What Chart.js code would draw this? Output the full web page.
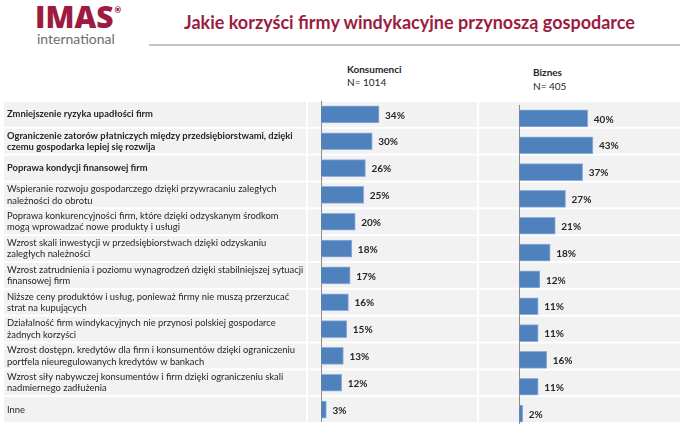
<!DOCTYPE html>
<html lang="pl">
<head>
<meta charset="utf-8">
<title>Jakie korzyści firmy windykacyjne przynoszą gospodarce</title>
<script src="https://cdn.jsdelivr.net/npm/chart.js@4.4.1/dist/chart.umd.min.js"></script>
<style>
  html, body { margin: 0; padding: 0; background: #fff; }
  body { width: 680px; height: 429px; position: relative; overflow: hidden; font-family: Lato, 'Open Sans', sans-serif; color: #262626; }
  .abs { position: absolute; white-space: nowrap; }
  #logo { left: 35px; top: -4px; font: 800 30px 'Open Sans', sans-serif; color: #9e1b3f; }
  #logo sup { font-size: 8px; position: relative; top: -4px; margin-left: 1px; }
  #intl { left: 37px; top: 30px; font: 14px Lato, sans-serif; color: #6e6e6e; }
  #title { left: 184px; top: 11px; font: bold 18px Lato, sans-serif; color: #9b1c40; }
  #rule { left: 149px; top: 44px; width: 531px; height: 2px; background: #c4c4c4; }
  .head { font-size: 10px; line-height: 13px; color: #262626; }
  .head b { font-weight: bold; }
  canvas { position: absolute; }
</style>
</head>
<body>
<div id="logo" class="abs">IMAS<sup>®</sup></div>
<div id="intl" class="abs">international</div>
<div id="title" class="abs">Jakie korzyści firmy windykacyjne przynoszą gospodarce</div>
<div id="rule" class="abs"></div>
<div class="abs head" style="left:347px;top:63px"><b>Konsumenci</b><br>N= 1014</div>
<div class="abs head" style="left:533px;top:65px;line-height:14px"><b>Biznes</b><br>N= 405</div>

<canvas id="consChart" width="478" height="322" style="left:0;top:101px"></canvas>
<canvas id="bizChart" width="202" height="326" style="left:478px;top:101px"></canvas>

<script>
// categories, wrapped the same way as in the original slide
const categories = [
  ['Zmniejszenie ryzyka upadłości firm'],
  ['Ograniczenie zatorów płatniczych między przedsiębiorstwami, dzięki', 'czemu gospodarka lepiej się rozwija'],
  ['Poprawa kondycji finansowej firm'],
  ['Wspieranie rozwoju gospodarczego dzięki przywracaniu zaległych', 'należności do obrotu'],
  ['Poprawa konkurencyjności firm, które dzięki odzyskanym środkom', 'mogą wprowadzać nowe produkty i usługi'],
  ['Wzrost skali inwestycji w przedsiębiorstwach dzięki odzyskaniu', 'zaległych należności'],
  ['Wzrost zatrudnienia i poziomu wynagrodzeń dzięki stabilniejszej sytuacji', 'finansowej firm'],
  ['Niższe ceny produktów i usług, ponieważ firmy nie muszą przerzucać', 'strat na kupujących'],
  ['Działalność firm windykacyjnych nie przynosi polskiej gospodarce', 'żadnych korzyści'],
  ['Wzrost dostępn. kredytów dla firm i konsumentów dzięki ograniczeniu', 'portfela nieuregulowanych kredytów w bankach'],
  ['Wzrost siły nabywczej konsumentów i firm dzięki ograniczeniu skali', 'nadmiernego zadłużenia'],
  ['Inne']
];
const consumerValues = [34, 30, 26, 25, 20, 18, 17, 16, 15, 13, 12, 3];
const businessValues = [40, 43, 37, 27, 21, 18, 12, 11, 11, 16, 11, 2];
const boldRows = 3; // first three answers are bold on the slide

const FONT = 'Lato, "Open Sans", sans-serif';
const TEXT = '#262626';
const BAR = '#4f81bd';

// gray table rows + the zero line of each column
const tableRows = {
  id: 'tableRows',
  beforeDraw(chart, args, opts) {
    const { ctx, chartArea, scales: { x, y } } = chart;
    const n = chart.data.labels.length;
    const step = (chartArea.bottom - chartArea.top) / n;
    const cols = opts.labelColumn
      ? [[4, chartArea.left - 1], [chartArea.left + 1, chart.width - 1]]
      : [[1, chart.width]];
    ctx.save();
    ctx.fillStyle = '#f2f2f2';
    for (let i = 0; i < n; i++) {
      const cy = y.getPixelForValue(i) + opts.shift;
      cols.forEach(([a, b]) => ctx.fillRect(a, cy - step / 2 + 1, b - a, step - 2));
    }
    const zx = Math.round(x.getPixelForValue(0)) + 0.5;
    ctx.strokeStyle = '#8c8c8c';
    ctx.lineWidth = 1;
    ctx.beginPath();
    ctx.moveTo(zx, chartArea.top);
    ctx.lineTo(zx, chartArea.bottom + opts.axisEnd);
    ctx.stroke();
    ctx.restore();
  }
};

const valueLabels = {
  id: 'valueLabels',
  afterDatasetsDraw(chart) {
    const { ctx } = chart;
    const values = chart.data.datasets[0].data;
    ctx.save();
    ctx.font = 'bold 10px ' + FONT;
    ctx.fillStyle = TEXT;
    ctx.textBaseline = 'middle';
    chart.getDatasetMeta(0).data.forEach((bar, i) => {
      ctx.fillText(values[i] + '%', bar.x + 6, bar.y + 1);
    });
    ctx.restore();
  }
};

function makeChart(id, values, xMin, xMax, withLabels, rowOpts, padTop) {
  return new Chart(document.getElementById(id), {
    type: 'bar',
    data: {
      labels: categories,
      datasets: [{
        data: values,
        backgroundColor: BAR,
        borderColor: '#8fb0da',
        borderWidth: 1,
        barThickness: 17
      }]
    },
    options: {
      indexAxis: 'y',
      responsive: false,
      animation: false,
      devicePixelRatio: 1,
      layout: { padding: { left: withLabels ? 7 : 0, top: padTop, right: 0, bottom: 0 } },
      plugins: { legend: { display: false }, tooltip: { enabled: false }, tableRows: rowOpts },
      scales: {
        x: { display: false, min: xMin, max: xMax },
        y: {
          display: withLabels,
          grid: { display: false },
          border: { display: false },
          afterFit: (s) => {
            if (!withLabels) return;
            // fixed label column, and no extra room reserved for the first/last label
            s.width = 300;
            s.paddingTop = 0;
            s.paddingBottom = 0;
          },
          ticks: {
            crossAlign: 'far',
            padding: 0,
            color: TEXT,
            font: (c) => ({ family: FONT, size: 9.4, lineHeight: 1.2, weight: c.index < boldRows ? 'bold' : 'normal' })
          }
        }
      }
    },
    plugins: [tableRows, valueLabels]
  });
}

makeChart('consChart', consumerValues, -8.4, 92.2, true, { labelColumn: true, shift: 0, axisEnd: -1 }, 0);
makeChart('bizChart', businessValues, -24.2, 93.9, false, { labelColumn: false, shift: -4, axisEnd: -3 }, 4);
</script>
</body>
</html>
